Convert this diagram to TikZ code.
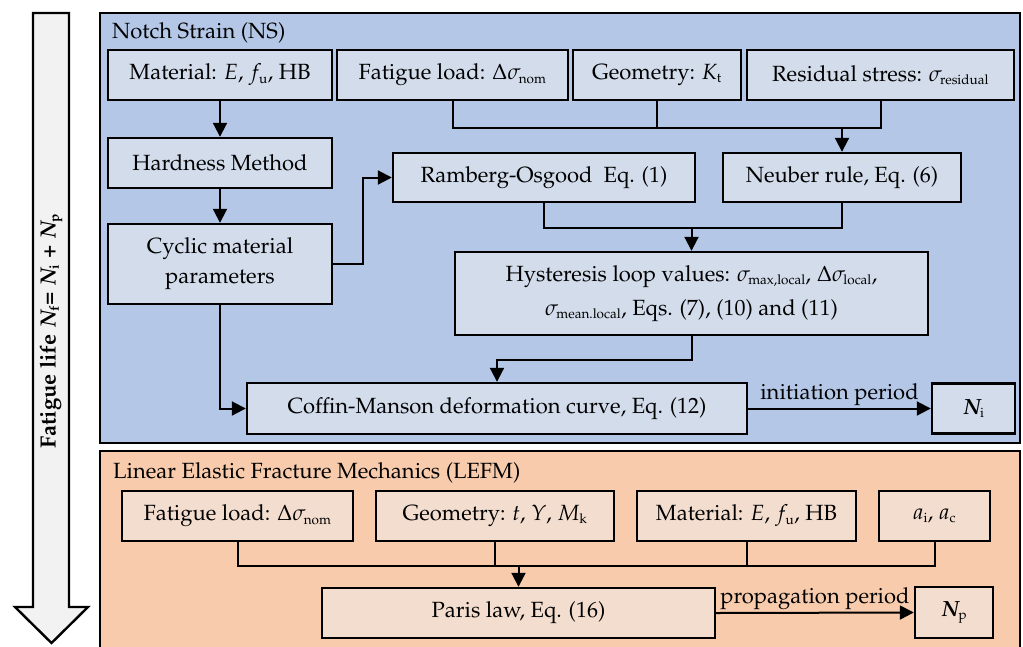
\documentclass[tikz,border=0pt]{standalone}
\usepackage[T1]{fontenc}
\usepackage{mathpazo}
\usepackage{bm}
\usetikzlibrary{arrows.meta,calc}
\DeclareMathSizes{22}{22}{13.5}{10}
\definecolor{nsbg}{HTML}{B4C7E7}
\definecolor{nsbox}{HTML}{D2DCEB}
\definecolor{lebg}{HTML}{F7CBAC}
\definecolor{lebox}{HTML}{F3DDCF}
\definecolor{arrfill}{HTML}{F2F2F2}
\newcommand{\lifelabel}{\bfseries Fatigue life $\bm{N}_{\mathbf{f}}$= $\bm{N}_{\mathbf{i}}$ + $\bm{N}_{\mathbf{p}}$}
\begin{document}
\begin{tikzpicture}[x=1pt,y=-1pt,font=\fontsize{22}{30}\selectfont,
  panel/.style={draw=black,line width=2.4pt},
  bx/.style={draw=black,line width=2.4pt,inner sep=0pt,align=center,anchor=center},
  nsb/.style={bx,fill=nsbox},
  leb/.style={bx,fill=lebox},
  conn/.style={draw=black,line width=2pt},
  arr/.style={conn,-{Triangle[length=14pt,width=14pt]}},
  lbl/.style={above,inner sep=2pt}]
\useasboundingbox (0,0) rectangle (1023,646);
\fill[white] (0,0) rectangle (1023,646);
% left big arrow
\draw[line width=2.4pt,fill=arrfill,line join=miter]
  (33,13) -- (69,13) -- (69,607) -- (88,607) -- (51.5,643) -- (15,607) -- (33,607) -- cycle;
\node[rotate=90] (life) at (51,331) {\lifelabel};
% panels
\draw[panel,fill=nsbg] (100,13) rectangle (1020,443);
\draw[panel,fill=lebg] (100,451) rectangle (1020,660);
\node[anchor=west,inner sep=0pt] (nstitle) at (112,33) {Notch Strain (NS)};
\node[anchor=west,inner sep=0pt] (letitle) at (113,473) {Linear Elastic Fracture Mechanics (LEFM)};
% NS boxes
\node[nsb,minimum width=224,minimum height=50] (mat) at (220,75) {Material: $E$, $f_\mathrm{u}$, HB};
\node[nsb,minimum width=231,minimum height=50] (fat) at (452.5,75) {Fatigue load: $\Delta\sigma_\mathrm{nom}$};
\node[nsb,minimum width=168,minimum height=50] (geo) at (657,75) {Geometry: $K_\mathrm{t}$};
\node[nsb,minimum width=267,minimum height=50] (res) at (880.5,75) {Residual stress: $\sigma_\mathrm{residual}$};
\node[nsb,minimum width=224,minimum height=50] (hard) at (220,163) {Hardness Method};
\node[nsb,minimum width=302,minimum height=49] (ramb) at (544,177.5) {Ramberg-Osgood~ Eq. (1)};
\node[nsb,minimum width=238,minimum height=49] (neub) at (842,177.5) {Neuber rule, Eq. (6)};
\node[nsb,minimum width=224,minimum height=80] (cyc) at (220,264) {Cyclic material\\parameters};
\node[nsb,minimum width=473,minimum height=83] (hyst) at (691.5,293.5) {Hysteresis loop values: $\sigma_\mathrm{max,local}$, $\Delta\sigma_\mathrm{local}$,\\[4pt]$\sigma_\mathrm{mean.local}$, Eqs. (7), (10) and (11)};
\node[nsb,minimum width=500,minimum height=51] (coff) at (497,408.5) {Coffin-Manson deformation curve, Eq. (12)};
\node[nsb,minimum width=83,minimum height=50] (Ni) at (973.5,408.5) {$\bm{N}_\mathrm{i}$};
% NS connectors
\draw[arr] (mat) -- (hard);
\draw[arr] (hard) -- (cyc);
\draw[arr] (cyc.east) -- ++(30,0) |- (ramb.west);
\draw[conn] (fat.south) -- ++(0,27) coordinate (j1) -| (res.south);
\draw[conn] (geo.south) -- (geo.south |- j1);
\draw[arr] (j1 -| neub.north) -- (neub.north);
\draw[conn] (ramb.south) -- ++(0,25) coordinate (j2) -| (neub.south);
\draw[arr] (j2 -| hyst.north) -- (hyst.north);
\draw[arr] (hyst.south) -- ++(0,24) -| (coff.north);
\draw[arr] (cyc.south) |- (coff.west);
\draw[arr] (coff.east) -- node[lbl] (ilab) {initiation period} (Ni.west);
% LEFM boxes
\node[leb,minimum width=231,minimum height=50] (lfat) at (237.5,516) {Fatigue load: $\Delta\sigma_\mathrm{nom}$};
\node[leb,minimum width=238,minimum height=50] (lgeo) at (495,516) {Geometry: $t$, $Y$, $M_\mathrm{k}$};
\node[leb,minimum width=219,minimum height=50] (lmat) at (746.5,516) {Material: $E$, $f_\mathrm{u}$, HB};
\node[leb,minimum width=111,minimum height=50] (la) at (934.5,516) {$a_\mathrm{i}$, $a_\mathrm{c}$};
\node[leb,minimum width=393,minimum height=50] (paris) at (518.5,613) {Paris law, Eq. (16)};
\node[leb,minimum width=78,minimum height=51] (Np) at (954,612.5) {$\bm{N}_\mathrm{p}$};
% LEFM connectors
\draw[conn] (lfat.south) -- ++(0,24) coordinate (j3) -| (la.south);
\draw[conn] (lgeo.south) -- (lgeo.south |- j3);
\draw[conn] (lmat.south) -- (lmat.south |- j3);
\draw[arr] (j3 -| paris.north) -- (paris.north);
\draw[arr] (paris.east) -- node[lbl] (plab) {propagation period} (Np.west);
\end{tikzpicture}
\end{document}
